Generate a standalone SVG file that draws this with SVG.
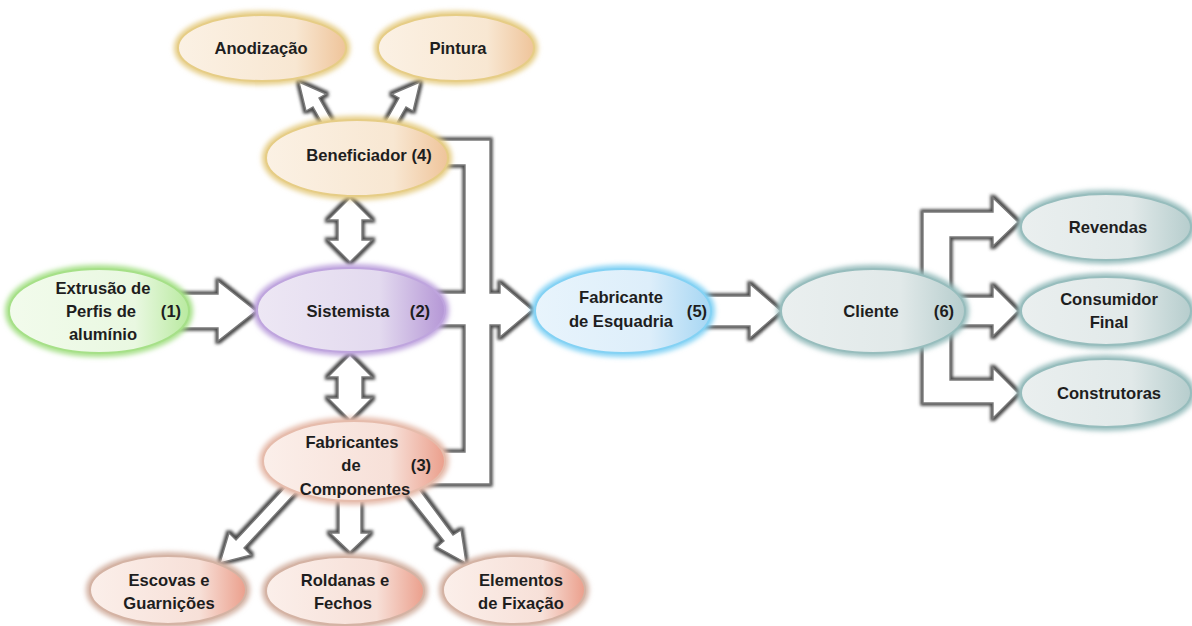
<svg xmlns="http://www.w3.org/2000/svg" width="1192" height="626" viewBox="0 0 1192 626">
<defs>
<style>
.t{font-family:"Liberation Sans",Arial,sans-serif;font-weight:bold;font-size:16.6px;fill:#1e1e1e;text-anchor:middle;dominant-baseline:central}
.arw{fill:#fff;stroke:#7a7a7a;stroke-width:1.4;stroke-linejoin:miter;filter:url(#arrowSh)}
.glow{fill:none;stroke-width:8;filter:url(#blur)}
</style>
<filter id="arrowSh" x="-20%" y="-20%" width="140%" height="140%">
<feMorphology in="SourceAlpha" operator="dilate" radius="1.6" result="d"/>
<feGaussianBlur in="d" stdDeviation="1.6" result="b"/>
<feFlood flood-color="#4a4a4a"/>
<feComposite in2="b" operator="in" result="s"/>
<feMerge><feMergeNode in="s"/><feMergeNode in="SourceGraphic"/></feMerge>
</filter>
<filter id="blur" x="-20%" y="-30%" width="140%" height="160%"><feGaussianBlur stdDeviation="2.4"/></filter>
<linearGradient id="gPeach" x1="0" y1="0" x2="1" y2="0"><stop offset="0" stop-color="#fbf1e4"/><stop offset="0.7" stop-color="#f8e7d2"/><stop offset="1" stop-color="#efc49a"/></linearGradient>
<linearGradient id="gGreen" x1="0" y1="0" x2="1" y2="0"><stop offset="0" stop-color="#f2fbec"/><stop offset="0.7" stop-color="#e9f8e1"/><stop offset="1" stop-color="#b9eaa0"/></linearGradient>
<linearGradient id="gPurple" x1="0" y1="0" x2="1" y2="0"><stop offset="0" stop-color="#ede7f4"/><stop offset="0.65" stop-color="#e3daef"/><stop offset="1" stop-color="#b597d6"/></linearGradient>
<linearGradient id="gPink" x1="0" y1="0" x2="1" y2="0"><stop offset="0" stop-color="#fbefea"/><stop offset="0.7" stop-color="#f7e0d8"/><stop offset="1" stop-color="#eb9f8c"/></linearGradient>
<linearGradient id="gBlue" x1="0" y1="0" x2="1" y2="0"><stop offset="0" stop-color="#e8f4fc"/><stop offset="0.65" stop-color="#ddeefa"/><stop offset="1" stop-color="#a6d6f3"/></linearGradient>
<linearGradient id="gTeal" x1="0" y1="0" x2="1" y2="0"><stop offset="0" stop-color="#eaefef"/><stop offset="0.65" stop-color="#e1e9e9"/><stop offset="1" stop-color="#b6cdcd"/></linearGradient>
</defs>
<rect width="1192" height="626" fill="#fff"/>

<g id="connectors">
<path class="arw" d="M326,130 L313,107 L306,111 L299,82 L326,94 L319,98 L332,121 Z"/>
<path class="arw" d="M386,121 L399,98 L392,94 L420,82 L413,111 L406,107 L393,130 Z"/>
<path class="arw" d="M350,198 L372,220 L362,220 L362,240 L372,240 L350,262 L328,240 L338,240 L338,220 L328,220 Z"/>
<path class="arw" d="M350,355 L372,377 L362,377 L362,398 L372,398 L350,420 L328,398 L338,398 L338,377 L328,377 Z"/>
<path class="arw" d="M150,294 L218,294 L218,281 L256,311 L218,341 L218,328 L150,328 Z"/>
<path class="arw" d="M425,140 L490,140 L490,293 L500,293 L500,283 L532,310 L500,337 L500,325 L490,325 L490,484 L425,484 L425,452 L465,452 L465,325 L425,325 L425,293 L465,293 L465,165 L425,165 Z"/>
<path class="arw" d="M290,482 L298,490 L244,548 L251,555 L220,563 L229,533 L236,540 Z"/>
<path class="arw" d="M339,490 L361,490 L361,533 L370,533 L350,552 L330,533 L339,533 Z"/>
<path class="arw" d="M402,488 L413,481 L453,535 L461,530 L466,563 L437,547 L444,541 Z"/>
<path class="arw" d="M700,296 L750,296 L750,284 L781,311 L750,338 L750,326 L700,326 Z"/>
<path class="arw" d="M923,290 L923,212 L993,212 L993,198 L1018,222 L993,246 L993,237 L950,237 L950,297 L993,297 L993,286 L1018,311 L993,336 L993,325 L950,325 L950,380 L993,380 L993,368 L1018,393 L993,418 L993,403 L923,403 Z"/>
</g>

<g id="n-anodizacao">
<ellipse class="glow" cx="262" cy="48" rx="84" ry="33" stroke="#e6cd86"/>
<ellipse cx="262" cy="48" rx="84" ry="33" fill="url(#gPeach)" stroke="#e6cd86" stroke-width="2"/>
<text class="t" x="261" y="48">Anodização</text>
</g>
<g id="n-pintura">
<ellipse class="glow" cx="456" cy="48" rx="78" ry="33" stroke="#e6cd86"/>
<ellipse cx="456" cy="48" rx="78" ry="33" fill="url(#gPeach)" stroke="#e6cd86" stroke-width="2"/>
<text class="t" x="458" y="48">Pintura</text>
</g>
<g id="n-beneficiador">
<ellipse class="glow" cx="357" cy="158" rx="91" ry="38" stroke="#e6cd86"/>
<ellipse cx="357" cy="158" rx="91" ry="38" fill="url(#gPeach)" stroke="#e6cd86" stroke-width="2"/>
<text class="t" x="369" y="155">Beneficiador (4)</text>
</g>
<g id="n-extrusao">
<ellipse class="glow" cx="99" cy="311" rx="90" ry="42" stroke="#a6e088"/>
<ellipse cx="99" cy="311" rx="90" ry="42" fill="url(#gGreen)" stroke="#a6e088" stroke-width="2"/>
<text class="t" x="103" y="288">Extrusão de</text>
<text class="t" x="101" y="311">Perfis de</text>
<text class="t" x="171" y="311">(1)</text>
<text class="t" x="103" y="334">alumínio</text>
</g>
<g id="n-sistemista">
<ellipse class="glow" cx="351" cy="310" rx="94" ry="42" stroke="#bfa5de"/>
<ellipse cx="351" cy="310" rx="94" ry="42" fill="url(#gPurple)" stroke="#bfa5de" stroke-width="2"/>
<text class="t" x="348" y="311">Sistemista</text>
<text class="t" x="420" y="311">(2)</text>
</g>
<g id="n-componentes">
<ellipse class="glow" cx="354" cy="461" rx="91" ry="40" stroke="#e6bcac"/>
<ellipse cx="354" cy="461" rx="91" ry="40" fill="url(#gPink)" stroke="#e6bcac" stroke-width="2"/>
<text class="t" x="352" y="442">Fabricantes</text>
<text class="t" x="351" y="465">de</text>
<text class="t" x="421" y="465">(3)</text>
<text class="t" x="355" y="489">Componentes</text>
</g>
<g id="n-escovas">
<ellipse class="glow" cx="168" cy="590" rx="78" ry="34" stroke="#d4b3a4"/>
<ellipse cx="168" cy="590" rx="78" ry="34" fill="url(#gPink)" stroke="#d4b3a4" stroke-width="2"/>
<text class="t" x="169" y="580">Escovas e</text>
<text class="t" x="169" y="603">Guarnições</text>
</g>
<g id="n-roldanas">
<ellipse class="glow" cx="345" cy="591" rx="79" ry="34" stroke="#d4b3a4"/>
<ellipse cx="345" cy="591" rx="79" ry="34" fill="url(#gPink)" stroke="#d4b3a4" stroke-width="2"/>
<text class="t" x="345" y="580">Roldanas e</text>
<text class="t" x="343" y="603">Fechos</text>
</g>
<g id="n-fixacao">
<ellipse class="glow" cx="514" cy="590" rx="71" ry="34" stroke="#d4b3a4"/>
<ellipse cx="514" cy="590" rx="71" ry="34" fill="url(#gPink)" stroke="#d4b3a4" stroke-width="2"/>
<text class="t" x="521" y="580">Elementos</text>
<text class="t" x="521" y="603">de Fixação</text>
</g>
<g id="n-esquadria">
<ellipse class="glow" cx="623" cy="311" rx="88" ry="42" stroke="#84d2f4"/>
<ellipse cx="623" cy="311" rx="88" ry="42" fill="url(#gBlue)" stroke="#84d2f4" stroke-width="2"/>
<text class="t" x="621" y="297">Fabricante</text>
<text class="t" x="621" y="321">de Esquadria</text>
<text class="t" x="697" y="311">(5)</text>
</g>
<g id="n-cliente">
<ellipse class="glow" cx="873" cy="311" rx="92" ry="42" stroke="#97bdbd"/>
<ellipse cx="873" cy="311" rx="92" ry="42" fill="url(#gTeal)" stroke="#97bdbd" stroke-width="2"/>
<text class="t" x="871" y="311">Cliente</text>
<text class="t" x="944" y="311">(6)</text>
</g>
<g id="n-revendas">
<ellipse class="glow" cx="1106" cy="227" rx="85" ry="33" stroke="#97bdbd"/>
<ellipse cx="1106" cy="227" rx="85" ry="33" fill="url(#gTeal)" stroke="#97bdbd" stroke-width="2"/>
<text class="t" x="1108" y="227">Revendas</text>
</g>
<g id="n-consumidor">
<ellipse class="glow" cx="1106" cy="311" rx="85" ry="34" stroke="#97bdbd"/>
<ellipse cx="1106" cy="311" rx="85" ry="34" fill="url(#gTeal)" stroke="#97bdbd" stroke-width="2"/>
<text class="t" x="1109" y="299">Consumidor</text>
<text class="t" x="1109" y="322">Final</text>
</g>
<g id="n-construtoras">
<ellipse class="glow" cx="1106" cy="393" rx="85" ry="34" stroke="#97bdbd"/>
<ellipse cx="1106" cy="393" rx="85" ry="34" fill="url(#gTeal)" stroke="#97bdbd" stroke-width="2"/>
<text class="t" x="1109" y="393">Construtoras</text>
</g>
</svg>
